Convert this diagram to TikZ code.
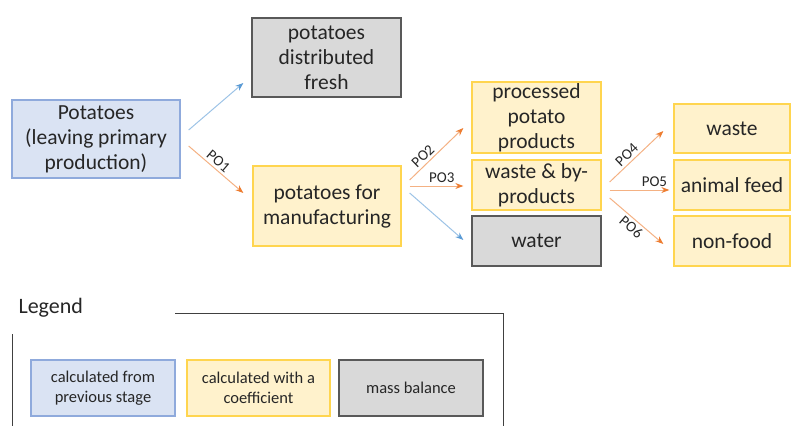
\documentclass[tikz,border=0pt]{standalone}
\usepackage{fontspec}
\setmainfont{Carlito}
\usetikzlibrary{arrows.meta,calc}

\definecolor{prevfill}{HTML}{DAE3F3}
\definecolor{prevline}{HTML}{8FAADC}
\definecolor{coeffill}{HTML}{FFF2CC}
\definecolor{coefline}{HTML}{FFD54F}
\definecolor{massfill}{HTML}{D9D9D9}
\definecolor{massline}{HTML}{595959}
\definecolor{blueflow}{HTML}{9DC3E6}
\definecolor{bluetip}{HTML}{5B9BD5}
\definecolor{orangeflow}{HTML}{F4B183}
\definecolor{orangetip}{HTML}{ED7D31}
\definecolor{inktext}{HTML}{262626}

\tikzset{
  box/.style={line width=1.3pt, align=center, inner sep=0pt, text=inktext,
    font=\fontsize{21.5}{25}\selectfont},
  prevbox/.style={box, fill=prevfill, draw=prevline},
  coefbox/.style={box, fill=coeffill, draw=coefline},
  massbox/.style={box, fill=massfill, draw=massline},
  keybox/.style={font=\fontsize{16.5}{20}\selectfont},
  blueflow/.style={line width=1pt, draw=blueflow, -{Stealth[length=8pt,width=6pt,color=bluetip]}},
  orangeflow/.style={line width=1pt, draw=orangeflow, -{Stealth[length=8pt,width=6pt,color=orangetip]}},
  flowlabel/.style={font=\fontsize{15}{16}\selectfont, text=inktext, inner sep=2.5pt}
}

\begin{document}
\begin{tikzpicture}[x=1pt, y=-1pt]
    \useasboundingbox (0,0) rectangle (792,426);

    % first stage
    \node[prevbox, minimum width=168, minimum height=78] (pot) at (96,139) {Potatoes\\(leaving primary\\production)};
    \node[massbox, minimum width=149, minimum height=79] (fresh) at (326.5,57.5) {potatoes\\distributed\\fresh};
    \node[coefbox, minimum width=148, minimum height=80] (manuf) at (327,206) {potatoes for\\manufacturing};

    % second stage
    \node[coefbox, minimum width=129, minimum height=71] (proc) at (536.5,117.5) {processed\\potato\\products};
    \node[coefbox, minimum width=129, minimum height=50] (byprod) at (536.5,185) {waste \& by-\\products};
    \node[massbox, minimum width=129, minimum height=50] (water) at (536.5,241) {water};

    % third stage
    \node[coefbox, minimum width=116, minimum height=49] (waste) at (732,128.5) {waste};
    \node[coefbox, minimum width=116, minimum height=50] (feed) at (732,185) {animal feed};
    \node[coefbox, minimum width=116, minimum height=50] (nonfood) at (732,241) {non-food};

    % flows
    \draw[blueflow] ($(pot.east)+(8,-9)$) -- ($(fresh.west)+(-8,25.5)$);
    \draw[orangeflow] ($(pot.east)+(8,7)$) -- node[flowlabel, sloped, above, pos=0.45] {PO1} ($(manuf.west)+(-9,-13)$);

    \draw[orangeflow] ($(manuf.east)+(8,-26)$) -- node[flowlabel, sloped, above, pos=0.35] {PO2} ($(proc.west)+(-8,10.5)$);
    \draw[orangeflow] ($(manuf.east)+(8,-20)$) -- node[flowlabel, above, pos=0.6] {PO3} ($(byprod.west)+(-8,1)$);
    \draw[blueflow] ($(manuf.east)+(8,-13)$) -- ($(water.west)+(-8,-1)$);

    \draw[orangeflow] ($(byprod.east)+(8,-3)$) -- node[flowlabel, sloped, above, pos=0.42] {PO4} ($(waste.west)+(-10,2.5)$);
    \draw[orangeflow] ($(byprod.east)+(8,5)$) -- node[flowlabel, above, pos=0.75] {PO5} ($(feed.west)+(-4,5)$);
    \draw[orangeflow] ($(byprod.east)+(8,13)$) -- node[flowlabel, sloped, below, pos=0.5] {PO6} ($(nonfood.west)+(-10,3)$);

    % legend
    \node[anchor=west, text=inktext, font=\fontsize{22}{24}\selectfont] (legend) at (15,308) {Legend};
    \draw[line width=0.8pt, black!75] (175,313) -- (503,313) -- (503,426);
    \draw[line width=0.8pt, black!75] (12,334) -- (12,426);

    \node[prevbox, keybox, minimum width=144, minimum height=56] (keyprev) at (103,388) {calculated from\\previous stage};
    \node[coefbox, keybox, minimum width=143, minimum height=56] (keycoef) at (258.5,388) {calculated with a\\coefficient};
    \node[massbox, keybox, minimum width=144, minimum height=56] (keymass) at (411,388) {mass balance};
\end{tikzpicture}
\end{document}
